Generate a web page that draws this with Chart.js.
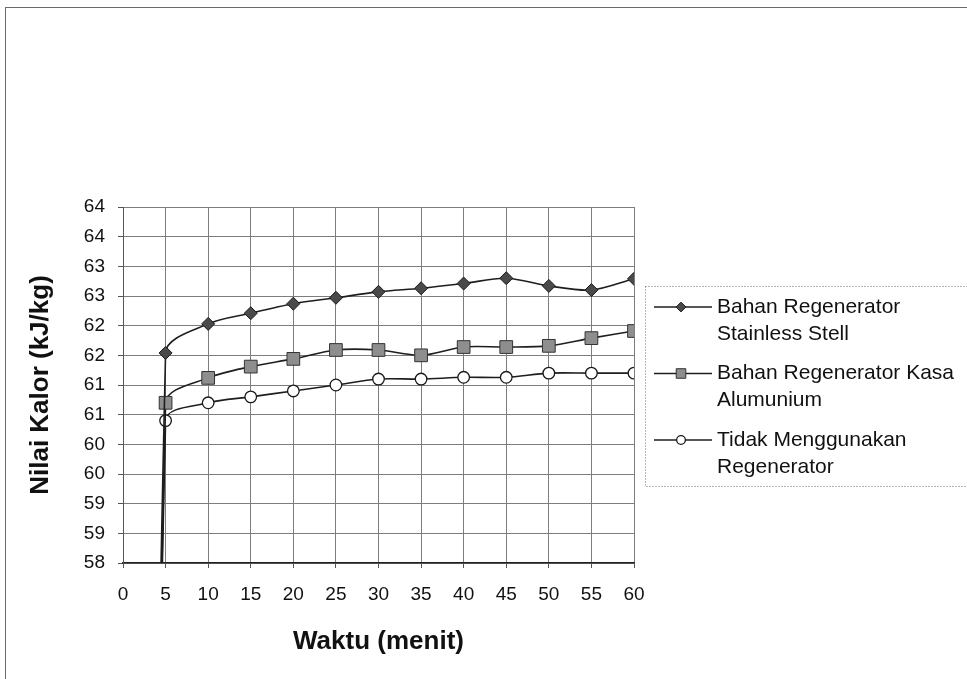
<!DOCTYPE html>
<html>
<head>
<meta charset="utf-8">
<title>Nilai Kalor terhadap Waktu</title>
<script src="https://cdn.jsdelivr.net/npm/chart.js@4/dist/chart.umd.min.js"></script>
<style>
  html, body { margin: 0; padding: 0; background: #fff; }
  #wrap { width: 967px; height: 679px; position: relative; }
</style>
</head>
<body>
<div id="wrap"><canvas id="c" width="967" height="679"></canvas></div>
<script>
// Waktu (menit) and heating value (kJ/kg) for each configuration
const minutes = [0, 5, 10, 15, 20, 25, 30, 35, 40, 45, 50, 55, 60];
const stainless = [0, 61.54, 62.03, 62.21, 62.37, 62.47, 62.57, 62.63, 62.71, 62.80, 62.67, 62.60, 62.79];
const kasaAlumunium = [0, 60.70, 61.12, 61.31, 61.44, 61.59, 61.59, 61.50, 61.64, 61.64, 61.66, 61.79, 61.91];
const tanpaRegenerator = [0, 60.40, 60.70, 60.80, 60.90, 61.00, 61.10, 61.10, 61.13, 61.13, 61.20, 61.20, 61.20];

const seriesNames = [
  'Bahan Regenerator Stainless Stell',
  'Bahan Regenerator Kasa Alumunium',
  'Tidak Menggunakan Regenerator'
];

// y axis: half-unit steps shown with whole-number formatting
const yTickValues = [58, 58.5, 59, 59.5, 60, 60.5, 61, 61.5, 62, 62.5, 63, 63.5, 64];
const yTickLabels = ['58', '59', '59', '60', '60', '61', '61', '62', '62', '63', '63', '64', '64'];

const FONT = '"Liberation Sans", Arial, sans-serif';
const LINE = '#1e1e1e';

function toPoints(values) {
  return minutes.map((m, i) => ({ x: m, y: values[i] }));
}

function series(label, values, style) {
  return Object.assign({
    label,
    data: toPoints(values),
    borderColor: LINE,
    borderWidth: 1.6,
    pointBorderColor: '#1a1a1a',
    pointBorderWidth: 1,
    fill: false
  }, style);
}

// outer frame around the whole chart
const framePlugin = {
  id: 'frame',
  beforeDraw(chart) {
    const { ctx, width, height } = chart;
    ctx.save();
    ctx.fillStyle = '#fff';
    ctx.fillRect(0, 0, width, height);
    ctx.strokeStyle = '#6a6a6a';
    ctx.lineWidth = 1;
    ctx.strokeRect(5.5, 7.5, width - 5, height + 10);
    ctx.restore();
  }
};

function wrapText(ctx, text, maxWidth) {
  const words = text.split(' ');
  const lines = [];
  let cur = '';
  words.forEach(w => {
    const test = cur ? cur + ' ' + w : w;
    if (cur && ctx.measureText(test).width > maxWidth) {
      lines.push(cur);
      cur = w;
    } else {
      cur = test;
    }
  });
  if (cur) lines.push(cur);
  return lines;
}

function drawMarker(ctx, ds, x, y, scale) {
  const r = ds.pointRadius * scale;
  ctx.save();
  ctx.fillStyle = ds.pointBackgroundColor;
  ctx.strokeStyle = ds.pointBorderColor;
  ctx.lineWidth = ds.pointBorderWidth;
  ctx.beginPath();
  if (ds.pointStyle === 'rectRot') {
    ctx.moveTo(x, y - r); ctx.lineTo(x + r, y); ctx.lineTo(x, y + r); ctx.lineTo(x - r, y);
    ctx.closePath();
  } else if (ds.pointStyle === 'rect') {
    const s = r * Math.SQRT1_2;
    ctx.rect(x - s, y - s, 2 * s, 2 * s);
  } else {
    ctx.arc(x, y, r, 0, Math.PI * 2);
  }
  ctx.fill();
  ctx.stroke();
  ctx.restore();
}

// boxed legend to the right of the plot, labels wrapped over two lines
const sideLegend = {
  id: 'sideLegend',
  afterDraw(chart) {
    const { ctx, chartArea } = chart;
    const left = chartArea.right + 11;
    const top = chartArea.top + 79;
    const bottom = chartArea.top + 279;
    ctx.save();
    ctx.setLineDash([1, 2]);
    ctx.strokeStyle = '#6f6f6f';
    ctx.lineWidth = 1;
    ctx.strokeRect(left + 0.5, top + 0.5, chart.width - left + 5, bottom - top);
    ctx.setLineDash([]);
    ctx.font = '21px ' + FONT;
    ctx.textBaseline = 'middle';
    ctx.textAlign = 'left';
    const textX = left + 72;
    const maxW = chart.width - textX - 4;
    const lineH = 27;
    let y = top + 21;
    chart.data.datasets.forEach(ds => {
      const lines = wrapText(ctx, ds.label, maxW);
      ctx.strokeStyle = ds.borderColor;
      ctx.lineWidth = 1.4;
      ctx.beginPath();
      ctx.moveTo(left + 9, y);
      ctx.lineTo(left + 67, y);
      ctx.stroke();
      drawMarker(ctx, ds, left + 36, y, 0.75);
      ctx.fillStyle = '#111';
      lines.forEach((ln, i) => ctx.fillText(ln, textX, y + i * lineH));
      y += lines.length * lineH + 12.5;
    });
    ctx.restore();
  }
};

const gridStyle = {
  color: '#7d7d7d',
  lineWidth: 1,
  borderDash: [1, 2],
  tickLength: 5,
  tickColor: '#555',
  tickBorderDash: [],
  tickWidth: 1
};

new Chart(document.getElementById('c'), {
  type: 'line',
  data: {
    datasets: [
      series(seriesNames[0], stainless, {
        pointStyle: 'rectRot', pointRadius: 6.5, pointBackgroundColor: '#4a4a4a'
      }),
      series(seriesNames[1], kasaAlumunium, {
        pointStyle: 'rect', pointRadius: 9, pointBackgroundColor: '#8e8e8e', pointBorderColor: '#333'
      }),
      series(seriesNames[2], tanpaRegenerator, {
        pointStyle: 'circle', pointRadius: 5.8, pointBackgroundColor: '#ffffff', pointBorderWidth: 1.3
      })
    ]
  },
  options: {
    responsive: false,
    animation: false,
    devicePixelRatio: 1,
    layout: { padding: { left: 20, top: 207, right: 333, bottom: 0 } },
    elements: { line: { tension: 0.3, capBezierPoints: false } },
    plugins: { legend: { display: false }, tooltip: { enabled: false } },
    scales: {
      x: {
        type: 'linear',
        min: 0,
        max: 60,
        grid: gridStyle,
        border: { display: true, color: '#222', width: 1.5 },
        ticks: { stepSize: 5, padding: 15, color: '#111', font: { family: FONT, size: 19 } },
        title: {
          display: true,
          text: 'Waktu (menit)',
          color: '#111',
          font: { family: FONT, size: 26, weight: 'bold' },
          padding: { top: 0, bottom: 22 }
        },
        afterFit(scale) { scale.height = 116; }
      },
      y: {
        type: 'linear',
        min: 58,
        max: 64,
        grid: gridStyle,
        border: { display: true, color: '#555', width: 1 },
        afterBuildTicks(scale) { scale.ticks = yTickValues.map(v => ({ value: v })); },
        ticks: {
          padding: 13,
          color: '#111',
          font: { family: FONT, size: 19 },
          callback: (v, i) => yTickLabels[i]
        },
        title: {
          display: true,
          text: 'Nilai Kalor (kJ/kg)',
          color: '#111',
          font: { family: FONT, size: 26, weight: 'bold' },
          padding: { top: 5, bottom: 0 }
        },
        afterFit(scale) { scale.width = 103; }
      }
    }
  },
  plugins: [framePlugin, sideLegend]
});
</script>
</body>
</html>
